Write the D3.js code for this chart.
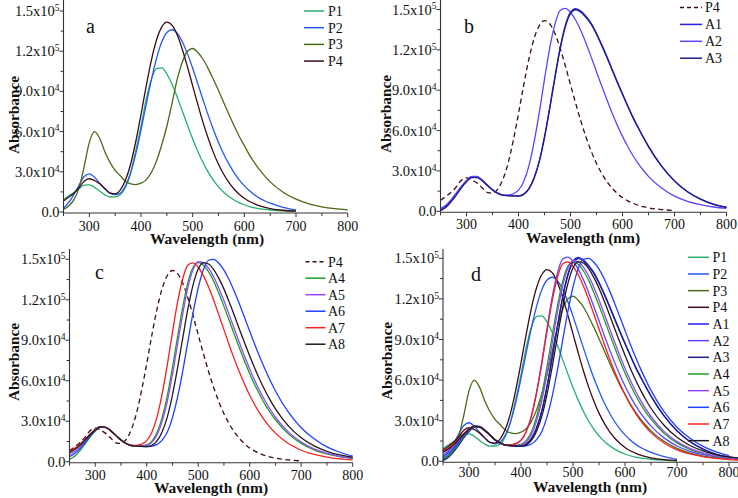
<!DOCTYPE html>
<html><head><meta charset="utf-8">
<script src="https://cdn.jsdelivr.net/npm/d3@7"></script>
<style>
body{margin:0;background:#fff}
svg{display:block}
</style>
</head><body>
<svg id="chart" width="738" height="498"></svg>
<script>
// Wavelength grid (nm)
const wavelengths = [250,260,270,280,290,300,310,320,330,340,350,360,370,380,390,400,410,420,430,440,450,460,470,480,490,500,510,520,530,540,550,560,570,580,590,600,610,620,630,640,650,675,700,725,750,775,800,825,850];
// Absorbance values, in units of 10^3
const P1 = [9.4,12,14.5,17.5,20,20.3,18.5,15.6,12.8,11.2,11.3,12.8,18.4,29.3,46,64,84,99,107,107.5,103,95.3,85.8,75.3,64.7,54.5,45.2,36.9,29.8,23.8,18.8,14.8,11.6,9.0,7.0,5.4,4.1,3.1,2.4,1.9,1.5,0.8,0.4,null,null,null,null,null,null];
const P2 = [3,7,13,20,26.5,28.5,26,21.5,17.3,14.3,12.9,14.2,19.6,29.3,43.5,61.2,80.2,98.6,114.5,126.8,134,136,133.4,127.1,118,107.3,95.6,83.8,72.3,61.6,51.9,43.3,35.9,29.4,24,19.5,15.8,12.7,10.2,8.2,6.6,3.5,1.5,null,null,null,null,null,null];
const P3 = [2,4.5,9,18,34,52,60,55,45,37,31,27,23,21,20.5,21.5,24,29.5,38,50,64,81,99,112,120,122,119,114,107,99,90.6,81.8,73,64.5,56.5,49.5,42.4,36.5,31.2,26.6,22.5,14.8,9.6,6.1,3.9,2.5,1.6,null,null];
const P4 = [8.2,11,14,18,23,24.8,23.5,21,17.5,14,13.5,16.5,23.8,35.8,52.8,72.7,93.9,113.2,128.4,138,141.7,139.4,132.2,121.3,108.2,94.1,80.2,66.9,55,44.5,35.6,28.2,22.1,17.2,13.3,10.2,7.8,6.0,4.5,3.4,2.6,1.3,0.6,null,null,null,null,null,null];
const A1 = [1,3.5,7.5,12.5,18,22.5,25.5,25.5,23,19.5,16,13.5,12,11.6,11.4,11.4,12.8,16.9,25,37.5,55.5,77.1,99.9,121.4,138.1,148,150.7,148.9,144.8,139.6,132.3,123.9,115,105.6,96.3,87.3,78.6,70,62.5,55.2,48.3,33.7,22.6,14.6,9.1,5.3,3.0,1.8,1.1];
const A2 = [2,4.5,8.5,13.5,18.5,23,26,26,23.3,19.5,16,13.5,12,12.1,13,15.7,22.1,33.8,51.4,73.5,98.2,121.3,139,149.3,150.8,147.8,142,134.2,124.8,114.4,103.8,93.2,82.9,73.1,64,55.7,48.2,41.5,35.6,30.5,26,17.3,11.3,7.4,4.9,3.2,2.1,1.4,0.9];
const A3 = [0.5,2.8,6.8,11.8,17.3,22,25,25,22.7,19.3,15.9,13.4,12,11.6,11.4,11.3,12.6,16.6,24.6,36.9,54.8,76.2,99,120.4,137.1,147,149.8,148,144,138.9,131.6,123.2,114.3,105,95.7,86.8,78.1,69.6,62.1,55,48.1,33.6,22.5,14.5,9,5.2,3,1.8,1.1];
const A4 = [1.7,4,8,13,18.3,22.7,25.5,25.5,23,19.5,16,13.5,12,11.7,11.8,12.5,15.3,21.7,32.9,49,70,92.9,114.7,132.8,144,147.5,145.6,140.8,133.8,124.8,115.1,104.9,94.5,84.2,74.4,65.2,56.8,49.2,42.3,36.3,31.1,20.7,13.6,8.8,5.8,3.7,2.4,1.6,1.05];
const A5 = [5,7.5,10.5,15,19.5,23.5,25.8,25.5,23,19.5,16,13.5,12,11.7,11.65,12,14.3,19.9,29.9,44.8,64.7,87.4,109.8,129.2,142.4,148.2,147.4,143.4,137.1,128.6,119.2,109,98.5,88.1,78.2,68.7,60,52.1,45,38.7,33.1,22.1,14.6,9.5,6.2,4,2.6,1.7,1.1];
const A6 = [3.7,6,9.5,14,19,23,25.5,25.5,23,19.5,16,13.5,12,11.8,11.5,11.2,11.5,12.8,16,22,32.8,48,67.3,89.2,110.5,128.8,142.2,149.3,150,147.1,142,134.9,126.3,116.8,106.8,96.7,86.7,77.2,68.3,60,52.4,36.7,25.2,17,11,7,4.2,null,null];
const A7 = [7.5,10,13,16.5,20.5,24,26,25.5,23,19.5,16,13.5,12,12.1,13,15.6,21.8,33.2,50.4,71.9,96,118.5,135.8,145.8,147.4,144.1,137.9,129.6,119.7,108.8,97.7,86.7,76.2,66.4,57.4,49.2,42,35.6,30.1,25.3,21.2,13.5,8.5,5.4,3.4,2.1,1.3,0.85,0.55];
const A8 = [6.7,9,12,16,20,23.5,26,25.5,23,19.5,16,13.5,12,11.5,11.3,11.1,12.1,15.4,22.2,33.2,49.5,69.8,91.8,113.4,131.1,142.8,147.6,146.5,142.4,135.9,127.9,118.5,108.5,98.2,88.1,78.3,69,60.4,52.6,45.5,39.2,26.6,17.7,11.7,7.7,5,3.3,2.2,1.4];

const seriesData = {P1,P2,P3,P4,A1,A2,A3,A4,A5,A6,A7,A8};
const seriesColors = {P1:"#22b06c",P2:"#2458f2",P3:"#4a6a16",P4:"#3c0c16",A1:"#2a1ef0",A2:"#5b46ff",A3:"#1e1e8a",A4:"#1e9e28",A5:"#9b45f5",A6:"#2040ff",A7:"#f52020",A8:"#1c1c1c"};

const yTickValues = [0,30,60,90,120,150];
const yTickMantissa = ["0.0","3.0x10","6.0x10","9.0x10","1.2x10","1.5x10"];
const yTickExponent = ["","4","4","4","5","5"];
const yMinorTicks = [15,45,75,105,135];
const xTickValues = [300,400,500,600,700,800];
const xMinorTicks = [250,350,450,550,650,750,850];

const panels = [
  {label:"a", series:["P1","P2","P3","P4"], dashed:[], xr:[63.5,347.7], xmax:800, yr:[212,11], top:0,
   labelPos:[86,33], tickDy:14.5, titleX:207, titleY:244, absY:115, absX:19, leg:[304,324,328,11,16.7]},
  {label:"b", series:["P4","A1","A2","A3"], dashed:["P4"], xr:[440.5,726.5], xmax:800, yr:[211.3,9.5], top:0,
   labelPos:[464,33], tickDy:12.5, titleX:583, titleY:243, absY:114, absX:391, leg:[680,702,705,7.5,16.9]},
  {label:"c", series:["P4","A4","A5","A6","A7","A8"], dashed:["P4"], xr:[69.5,352.7], xmax:800, yr:[461.7,259.3], top:249,
   labelPos:[95,279], tickDy:13.5, titleX:211, titleY:492.5, absY:362, absX:19, leg:[305.5,325.5,328,261.7,16.5]},
  {label:"d", series:["P1","P2","P3","P4","A1","A2","A3","A4","A5","A6","A7","A8"], dashed:[], xr:[443,755], xmax:850, yr:[461.3,258.3], top:249,
   labelPos:[471,281], tickDy:10.5, titleX:590, titleY:492, absY:361, absX:392, leg:[688,709,712.5,257.3,16.67]}
];

const svg = d3.select("#chart");
const axisColor = "#333";

function addText(g){ return g.append("text").style("font-family", '"Liberation Serif"').attr("fill", "#111"); }

panels.forEach(p => {
  const g = svg.append("g");
  const x = d3.scaleLinear().domain([250, p.xmax]).range(p.xr);
  const y = d3.scaleLinear().domain([0,150]).range(p.yr);
  const base = y(0) + 1;

  const line = d3.line()
    .defined(d => d[1] !== null)
    .x(d => x(d[0])).y(d => y(d[1]))
    .curve(d3.curveMonotoneX);
  p.series.forEach(name => {
    const pts = wavelengths.map((w,i) => [w, seriesData[name][i]]).filter(d => d[0] <= p.xmax);
    g.append("path").attr("d", line(pts))
      .attr("fill","none").attr("stroke", seriesColors[name])
      .attr("stroke-width", 1.3)
      .attr("stroke-dasharray", p.dashed.includes(name) ? "5,3.5" : null);
  });

  g.append("line").attr("x1", x(250)).attr("x2", x(250)).attr("y1", p.top).attr("y2", base)
    .attr("stroke", axisColor).attr("stroke-width", 1.1);
  g.append("line").attr("x1", x(250)).attr("x2", x(p.xmax)).attr("y1", base).attr("y2", base)
    .attr("stroke", axisColor).attr("stroke-width", 1.1);

  xTickValues.forEach(v => {
    g.append("line").attr("x1", x(v)).attr("x2", x(v)).attr("y1", base).attr("y2", base+4)
      .attr("stroke", axisColor);
    addText(g).attr("x", x(v)).attr("y", y(0) + p.tickDy).attr("dy","0.35em")
      .attr("text-anchor","middle").attr("font-size", 14).text(v);
  });
  xMinorTicks.filter(v => v <= p.xmax).forEach(v => {
    g.append("line").attr("x1", x(v)).attr("x2", x(v)).attr("y1", base).attr("y2", base+3)
      .attr("stroke", axisColor);
  });

  yTickValues.forEach((v,i) => {
    g.append("line").attr("x1", x(250)-4).attr("x2", x(250)).attr("y1", y(v)).attr("y2", y(v))
      .attr("stroke", axisColor);
    const t = addText(g).attr("x", x(250)-4).attr("y", y(v)).attr("dy","0.35em")
      .attr("text-anchor","end").attr("font-size", 14.5);
    t.append("tspan").text(yTickMantissa[i]);
    if (yTickExponent[i]) t.append("tspan").attr("dy", "-0.55em").attr("font-size", 9.5).text(yTickExponent[i]);
  });
  yMinorTicks.forEach(v => {
    g.append("line").attr("x1", x(250)-3).attr("x2", x(250)).attr("y1", y(v)).attr("y2", y(v))
      .attr("stroke", axisColor);
  });

  addText(g).attr("x", p.titleX).attr("y", p.titleY).attr("text-anchor","middle")
    .attr("font-size", 15.5).attr("font-weight","bold").text("Wavelength (nm)");
  addText(g).attr("transform", `translate(${p.absX},${p.absY}) rotate(-90)`)
    .attr("text-anchor","middle").attr("font-size", 15.3).attr("font-weight","bold").text("Absorbance");

  addText(g).attr("x", p.labelPos[0]).attr("y", p.labelPos[1]).attr("font-size", 20).text(p.label);

  const [lx1, lx2, tx, ly0, dyl] = p.leg;
  p.series.forEach((name, i) => {
    const yy = ly0 + i*dyl;
    g.append("line").attr("x1", lx1).attr("x2", lx2).attr("y1", yy).attr("y2", yy)
      .attr("stroke", seriesColors[name]).attr("stroke-width", 1.5)
      .attr("stroke-dasharray", p.dashed.includes(name) ? "4,3" : null);
    addText(g).attr("x", tx).attr("y", yy).attr("dy","0.35em").attr("font-size", 14).text(name);
  });
});
</script>
</body></html>
